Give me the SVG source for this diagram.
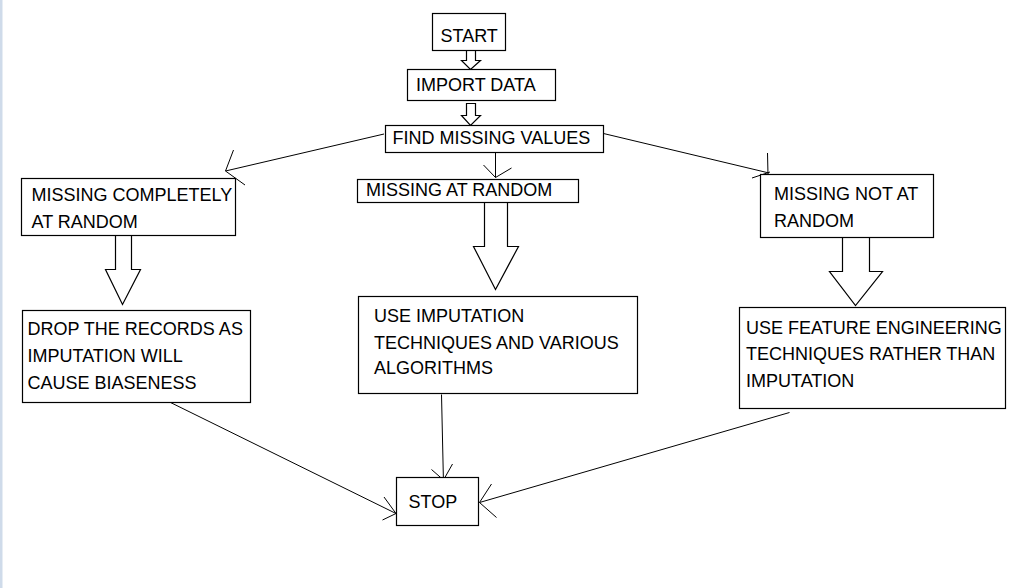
<svg xmlns="http://www.w3.org/2000/svg" width="1024" height="588" viewBox="0 0 1024 588">
<style>
.box{fill:#fff;stroke:#000;stroke-width:1.2}
.t{font-family:"Liberation Sans",Arial,sans-serif;font-size:18px;fill:#000}
.blk{fill:#fff;stroke:#000;stroke-width:1.2;stroke-linejoin:miter}
.ln{fill:none;stroke:#000;stroke-width:1}
</style>
<rect x="0" y="0" width="1024" height="588" fill="#fff"/>
<rect x="0" y="0" width="2.5" height="588" fill="#cfdbea"/>
<g id="connectors">
<path class="blk" d="M466.5,50.5 V60.5 H461.5 L470.5,69.5 L480.5,60.5 H475.5 V50.5"/>
<path class="blk" d="M466.5,103.5 H475.5 V115.5 H480.5 L470.5,125.5 L461.5,115.5 H466.5 Z"/>
<path class="blk" d="M115.5,235.5 V269.5 H105.5 L122.5,304.5 L140.5,269.5 H131.5 V235.5"/>
<path class="blk" d="M484.5,202.5 V246.5 H473.5 L495.5,289.5 L518.5,246.5 H507.5 V202.5"/>
<path class="blk" d="M842.5,237.5 V271.5 H829.5 L855.5,305.5 L882.5,271.5 H869.5 V237.5"/>
<path class="ln" d="M495.5,152.5 V177.5 M483.5,165 L495.5,177.5 L511.5,168"/>
<path class="ln" d="M384,134 L225.5,171 M233.5,150 L225.5,171 L245,185"/>
<path class="ln" d="M603.5,133.5 L769,173 M767.5,153 L768,175 M752,178 L770,172"/>
<path class="ln" d="M168.5,401.5 L396,513.5 M384,497 L396,513.5 L382.5,520"/>
<path class="ln" d="M441.5,394.5 L443.5,484 M431.5,469.5 L443.5,480 L452.5,464"/>
<path class="ln" d="M789.5,412.5 L479.5,502.5 M491.5,484 L479.5,502.5 L496.5,517.5"/>
</g>
<g id="start"><rect class="box" x="432.5" y="13.5" width="73" height="37"/><text class="t" x="440.5" y="41.5">START</text></g>
<g id="import"><rect class="box" x="407.5" y="69.5" width="148" height="31"/><text class="t" x="416" y="91">IMPORT DATA</text></g>
<g id="find"><rect class="box" x="385.5" y="125.5" width="218" height="27"/><text class="t" x="392.5" y="143.5">FIND MISSING VALUES</text></g>
<g id="mcar"><rect class="box" x="21.5" y="178.5" width="214" height="57"/><text class="t" x="31.5" y="201">MISSING COMPLETELY</text><text class="t" x="31.5" y="227.5">AT RANDOM</text></g>
<g id="mar"><rect class="box" x="357.5" y="179.5" width="221" height="23"/><text class="t" x="366" y="196">MISSING AT RANDOM</text></g>
<g id="mnar"><rect class="box" x="760.5" y="174.5" width="173" height="63"/><text class="t" x="774" y="200">MISSING NOT AT</text><text class="t" x="774" y="226.5">RANDOM</text></g>
<g id="drop"><rect class="box" x="22.5" y="310.5" width="228" height="92"/><text class="t" x="27.5" y="334.5">DROP THE RECORDS AS</text><text class="t" x="27.5" y="361.5">IMPUTATION WILL</text><text class="t" x="27.5" y="388.5">CAUSE BIASENESS</text></g>
<g id="impute"><rect class="box" x="358.5" y="296.5" width="279" height="97"/><text class="t" x="374" y="321.5">USE IMPUTATION</text><text class="t" x="374" y="348.5">TECHNIQUES AND VARIOUS</text><text class="t" x="374" y="374">ALGORITHMS</text></g>
<g id="feature"><rect class="box" x="739.5" y="307.5" width="266" height="101"/><text class="t" x="746" y="333.5">USE FEATURE ENGINEERING</text><text class="t" x="746" y="360">TECHNIQUES RATHER THAN</text><text class="t" x="746" y="386.5">IMPUTATION</text></g>
<g id="stop"><rect class="box" x="396.5" y="477.5" width="82" height="48"/><text class="t" x="408.5" y="507.5">STOP</text></g>
</svg>
